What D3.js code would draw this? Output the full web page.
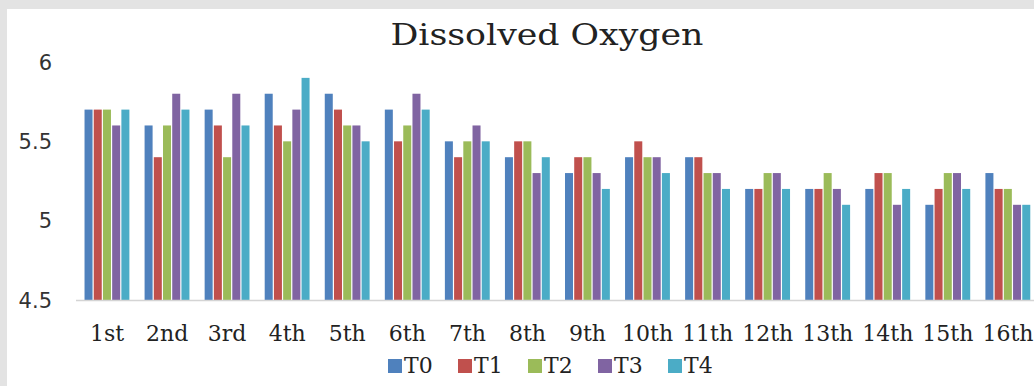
<!DOCTYPE html>
<meta charset="utf-8">
<style>
body {
  margin: 0;
  background-color: #e3e3e3;
  overflow: hidden;
}
svg {
  display: block;
}
.ylab text {
  font-family: "DejaVu Sans", sans-serif;
  font-size: 21px;
  fill: #333;
}
.xlab text {
  font-family: "DejaVu Serif", serif;
  font-size: 22px;
  fill: #222;
}
</style>
<script src="https://d3js.org/d3.v7.min.js"></script>
<body>
<svg class="plotter" width="1034" height="386"></svg>
<script>

// ---- data ----
var weeks = ["1st", "2nd", "3rd", "4th", "5th", "6th", "7th", "8th",
             "9th", "10th", "11th", "12th", "13th", "14th", "15th", "16th"];
var treatments = ["T0", "T1", "T2", "T3", "T4"];
var T0 = [5.7, 5.6, 5.7, 5.8, 5.8, 5.7, 5.5, 5.4, 5.3, 5.4, 5.4, 5.2, 5.2, 5.2, 5.1, 5.3];
var T1 = [5.7, 5.4, 5.6, 5.6, 5.7, 5.5, 5.4, 5.5, 5.4, 5.5, 5.4, 5.2, 5.2, 5.3, 5.2, 5.2];
var T2 = [5.7, 5.6, 5.4, 5.5, 5.6, 5.6, 5.5, 5.5, 5.4, 5.4, 5.3, 5.3, 5.3, 5.3, 5.3, 5.2];
var T3 = [5.6, 5.8, 5.8, 5.7, 5.6, 5.8, 5.6, 5.3, 5.3, 5.4, 5.3, 5.3, 5.2, 5.1, 5.3, 5.1];
var T4 = [5.7, 5.7, 5.6, 5.9, 5.5, 5.7, 5.5, 5.4, 5.2, 5.3, 5.2, 5.2, 5.1, 5.2, 5.2, 5.1];
var yTicks = [4.5, 5, 5.5, 6];
var colors = ["#4f81bd", "#c0504d", "#9bbb59", "#8064a2", "#4bacc6"];

var series = [T0, T1, T2, T3, T4];

// -------------------------------------

var svg = d3.select(".plotter");

// white chart panel
svg.append("rect")
    .attr("x", 7).attr("y", 9)
    .attr("width", 1034 - 7).attr("height", 386 - 9)
    .attr("fill", "#fff");

var x0 = d3.scaleBand()
    .domain(weeks)
    .range([77, 1038])
    .paddingInner(0.233)
    .paddingOuter(0.117);

var x1 = d3.scaleBand()
    .domain(treatments)
    .range([0, x0.bandwidth()]);

var y = d3.scaleLinear()
    .domain([4.5, 6])
    .range([300, 62]);

var color = d3.scaleOrdinal().domain(treatments).range(colors);

// bars
var groups = svg.append("g")
  .selectAll("g")
  .data(weeks)
  .enter().append("g")
    .attr("transform", function(d) { return "translate(" + x0(d) + ",0)"; });

groups.selectAll("rect")
  .data(function(d, i) {
    return treatments.map(function(t, k) { return {t: t, v: series[k][i]}; });
  })
  .enter().append("rect")
    .attr("x", function(d) { return x1(d.t) + 0.5; })
    .attr("width", x1.bandwidth() - 1.2)
    .attr("y", function(d) { return y(d.v); })
    .attr("height", function(d) { return y(4.5) - y(d.v); })
    .attr("fill", function(d) { return color(d.t); });

// x axis line
svg.append("line")
    .attr("x1", 76).attr("x2", 1034)
    .attr("y1", y(4.5) + 0.5).attr("y2", y(4.5) + 0.5)
    .attr("stroke", "#d4d4d4")
    .attr("stroke-width", 1.5);

// y labels
svg.append("g")
    .attr("class", "ylab")
  .selectAll("text")
  .data(yTicks)
  .enter().append("text")
    .attr("x", 52)
    .attr("y", function(d) { return y(d); })
    .attr("dy", "0.36em")
    .attr("text-anchor", "end")
    .text(function(d) { return d; });

// x labels
svg.append("g")
    .attr("class", "xlab")
  .selectAll("text")
  .data(weeks)
  .enter().append("text")
    .attr("x", function(d) { return x0(d) + x0.bandwidth() / 2; })
    .attr("y", 341)
    .attr("text-anchor", "middle")
    .text(function(d) { return d; });

// title
svg.append("text")
    .attr("x", 547)
    .attr("y", 45)
    .attr("text-anchor", "middle")
    .attr("textLength", 313)
    .attr("lengthAdjust", "spacingAndGlyphs")
    .style("font-family", "'DejaVu Serif', serif")
    .style("font-size", "30px")
    .style("fill", "#222")
    .text("Dissolved Oxygen");

// legend
var legend = svg.append("g")
  .selectAll("g")
  .data(treatments)
  .enter().append("g")
    .attr("transform", function(d, i) { return "translate(" + (388 + i * 70) + ",359)"; });

legend.append("rect")
    .attr("width", 14).attr("height", 14)
    .attr("fill", function(d) { return color(d); });

legend.append("text")
    .attr("x", 16)
    .attr("y", 14)
    .style("font-family", "'DejaVu Serif', serif")
    .style("font-size", "22px")
    .style("fill", "#222")
    .text(function(d) { return d; });

</script>
</body>
